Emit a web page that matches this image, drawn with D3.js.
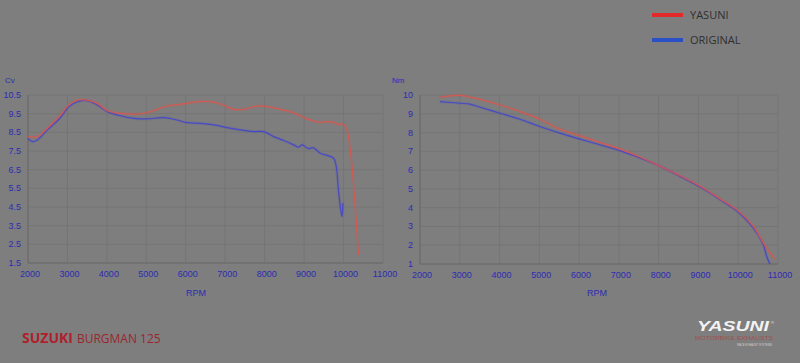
<!DOCTYPE html>
<html>
<head>
<meta charset="utf-8">
<script src="https://cdn.jsdelivr.net/npm/d3@7"></script>
<style>
  html, body { margin: 0; padding: 0; background: #7e7e7e; }
  svg { display: block; }
</style>
</head>
<body>
<div id="chart"></div>
<script>
// power (Cv) curves, left chart
const powerYasuni = [
  [2000, 8.27], [2236, 8.27], [2490, 8.72], [2785, 9.34], [3040, 9.97], [3250, 10.23],
  [3500, 10.23], [3755, 10.05], [4010, 9.66], [4345, 9.52], [4680, 9.48], [5020, 9.55],
  [5275, 9.73], [5527, 9.91], [5950, 10.02], [6290, 10.14], [6625, 10.14], [6870, 10.02],
  [7230, 9.73], [7470, 9.73], [7810, 9.91], [8060, 9.88], [8400, 9.73], [8735, 9.55],
  [9075, 9.22], [9410, 9.04], [9665, 9.07], [9870, 8.93], [10000, 8.93], [10085, 8.63],
  [10170, 7.56], [10270, 5.24], [10380, 1.94]
];
const powerOriginal = [
  [2000, 8.18], [2110, 8.0], [2236, 8.09], [2490, 8.63], [2785, 9.2], [3040, 9.88],
  [3250, 10.14], [3500, 10.2], [3755, 9.97], [4010, 9.61], [4262, 9.43], [4680, 9.25],
  [5020, 9.22], [5440, 9.29], [5780, 9.16], [6030, 9.02], [6370, 8.98], [6710, 8.9],
  [7050, 8.75], [7385, 8.63], [7720, 8.54], [7975, 8.54], [8230, 8.27], [8485, 8.06],
  [8735, 7.83], [8860, 7.7], [8945, 7.83], [9110, 7.63], [9240, 7.67], [9410, 7.38],
  [9620, 7.24], [9750, 7.11], [9815, 6.67], [9870, 5.42], [9935, 4.26], [9960, 3.99],
  [9985, 4.71]
];
// torque (Nm) curves, right chart
const torqueYasuni = [
  [2500, 9.88], [2750, 9.95], [3005, 9.98], [3510, 9.77], [4010, 9.47], [4510, 9.12],
  [5015, 8.71], [5520, 8.18], [6020, 7.83], [6520, 7.48], [7025, 7.13], [7530, 6.7],
  [8030, 6.21], [8530, 5.71], [9035, 5.15], [9540, 4.48], [10000, 3.83], [10375, 3.03],
  [10625, 2.15], [10795, 1.62], [10920, 1.26]
];
const torqueOriginal = [
  [2500, 9.65], [3005, 9.56], [3255, 9.51], [3510, 9.35], [4010, 9.03], [4510, 8.71],
  [5015, 8.32], [5520, 7.97], [6020, 7.65], [6520, 7.35], [7025, 7.04], [7530, 6.65],
  [8030, 6.21], [8530, 5.68], [9035, 5.11], [9540, 4.44], [10000, 3.77], [10375, 2.94],
  [10625, 2.06], [10710, 1.44], [10795, 1.0]
];

const rpmTicks = [2000, 3000, 4000, 5000, 6000, 7000, 8000, 9000, 10000, 11000];
const cvTicks = [1.5, 2.5, 3.5, 4.5, 5.5, 6.5, 7.5, 8.5, 9.5, 10.5];
const nmTicks = [1, 2, 3, 4, 5, 6, 7, 8, 9, 10];
const seriesNames = ["YASUNI", "ORIGINAL"];

const COLORS = {
  yasuni: "#d9564f",
  original: "#4246cc",
  legendRed: "#e32a2a",
  legendBlue: "#2a50c8",
  tick: "#2c2cb4",
  grid: "#737373"
};

const W = 800, H = 363;
const svg = d3.select("#chart").append("svg")
  .attr("width", W).attr("height", H)
  .style("font-family", "Arial, 'Liberation Sans', sans-serif");

svg.append("rect").attr("width", W).attr("height", H).attr("fill", "#7e7e7e");

function drawPanel(opts) {
  const x = d3.scaleLinear().domain([2000, 11000]).range([opts.x0, opts.x1]);
  const y = d3.scaleLinear().domain(opts.yDomain).range([opts.y1, opts.y0]);
  const g = svg.append("g");

  // grid
  g.selectAll("line.vg").data(rpmTicks).join("line")
    .attr("x1", d => x(d)).attr("x2", d => x(d))
    .attr("y1", opts.y0).attr("y2", opts.y1)
    .attr("stroke", COLORS.grid).attr("stroke-width", 0.8);
  g.selectAll("line.hg").data(opts.yTicks).join("line")
    .attr("x1", opts.x0).attr("x2", opts.x1)
    .attr("y1", d => y(d)).attr("y2", d => y(d))
    .attr("stroke", COLORS.grid).attr("stroke-width", 0.8);
  g.append("line").attr("x1", opts.x0).attr("x2", opts.x0).attr("y1", opts.y0).attr("y2", opts.y1)
    .attr("stroke", "#6a6a6a");
  g.append("line").attr("x1", opts.x0).attr("x2", opts.x1).attr("y1", opts.y1).attr("y2", opts.y1)
    .attr("stroke", "#6a6a6a");

  // tick labels
  g.selectAll("text.xt").data(rpmTicks).join("text")
    .attr("x", d => x(d) + 2).attr("y", opts.y1 + 14)
    .attr("text-anchor", "middle").attr("font-size", 9).attr("fill", COLORS.tick)
    .text(d => d);
  g.selectAll("text.yt").data(opts.yTicks).join("text")
    .attr("x", opts.x0 - 7).attr("y", d => y(d) + 3)
    .attr("text-anchor", "end").attr("font-size", 9).attr("fill", COLORS.tick)
    .text(d => d);

  g.append("text").attr("x", opts.unitX).attr("y", 83)
    .attr("font-size", 8).attr("fill", COLORS.tick).text(opts.unit);
  g.append("text").attr("x", opts.rpmX).attr("y", 296)
    .attr("text-anchor", "middle").attr("font-size", 9).attr("fill", COLORS.tick).text("RPM");

  const line = d3.line().x(d => x(d[0])).y(d => y(d[1])).curve(d3.curveCatmullRom);
  // original first so yasuni sits on top
  [[opts.original, COLORS.original], [opts.yasuni, COLORS.yasuni]].forEach(([s, c]) => {
    g.append("path").datum(s).attr("d", line)
      .attr("fill", "none").attr("stroke", c)
      .attr("stroke-width", 3).attr("stroke-opacity", 0.15);
    g.append("path").datum(s).attr("d", line)
      .attr("fill", "none").attr("stroke", c)
      .attr("stroke-width", 1.2).attr("stroke-opacity", 0.9);
  });
}

drawPanel({
  x0: 28, x1: 383, y0: 95, y1: 263, yDomain: [1.5, 10.5], yTicks: cvTicks,
  unit: "Cv", unitX: 5, rpmX: 196, original: powerOriginal, yasuni: powerYasuni
});
drawPanel({
  x0: 420, x1: 778, y0: 95, y1: 264, yDomain: [1, 10], yTicks: nmTicks,
  unit: "Nm", unitX: 392, rpmX: 597, original: torqueOriginal, yasuni: torqueYasuni
});

// legend
const legend = svg.append("g");
seriesNames.forEach((name, i) => {
  const ly = 15 + i * 25;
  legend.append("line").attr("x1", 652).attr("x2", 683).attr("y1", ly).attr("y2", ly)
    .attr("stroke", i === 0 ? COLORS.legendRed : COLORS.legendBlue).attr("stroke-width", 4);
  legend.append("text").attr("x", 690).attr("y", ly + 4)
    .attr("font-size", 11).attr("fill", "#2e2e2e")
    .style("font-family", "'Open Sans', sans-serif").text(name);
});

// bottom-left brand
const brand = svg.append("text").attr("x", 22).attr("y", 343)
  .style("font-family", "'Open Sans', sans-serif");
brand.append("tspan").attr("font-size", 14).attr("font-weight", "bold").attr("fill", "#b0202a").text("SUZUKI");
brand.append("tspan").attr("dx", 4).attr("font-size", 12).attr("fill", "#9c2630").text("BURGMAN 125");

// bottom-right logo
svg.append("text").attr("x", 697).attr("y", 331)
  .attr("font-size", 15).attr("font-weight", "bold").attr("font-style", "italic")
  .attr("fill", "#f2f2f2").attr("textLength", 72).attr("lengthAdjust", "spacingAndGlyphs")
  .style("font-family", "'Liberation Sans', Arial, sans-serif").text("YASUNI");
svg.append("text").attr("x", 771).attr("y", 324).attr("font-size", 4).attr("fill", "#f2f2f2").text("®");
svg.append("text").attr("x", 695).attr("y", 340)
  .attr("font-size", 5).attr("fill", "#a05050")
  .attr("textLength", 78).attr("lengthAdjust", "spacingAndGlyphs")
  .text("MOTORBIKE EXHAUSTS");
svg.append("text").attr("x", 737).attr("y", 346)
  .attr("font-size", 3.5).attr("fill", "#d0d0d0")
  .attr("textLength", 35).attr("lengthAdjust", "spacingAndGlyphs")
  .text("RACE EXHAUST SYSTEMS");
</script>
</body>
</html>
